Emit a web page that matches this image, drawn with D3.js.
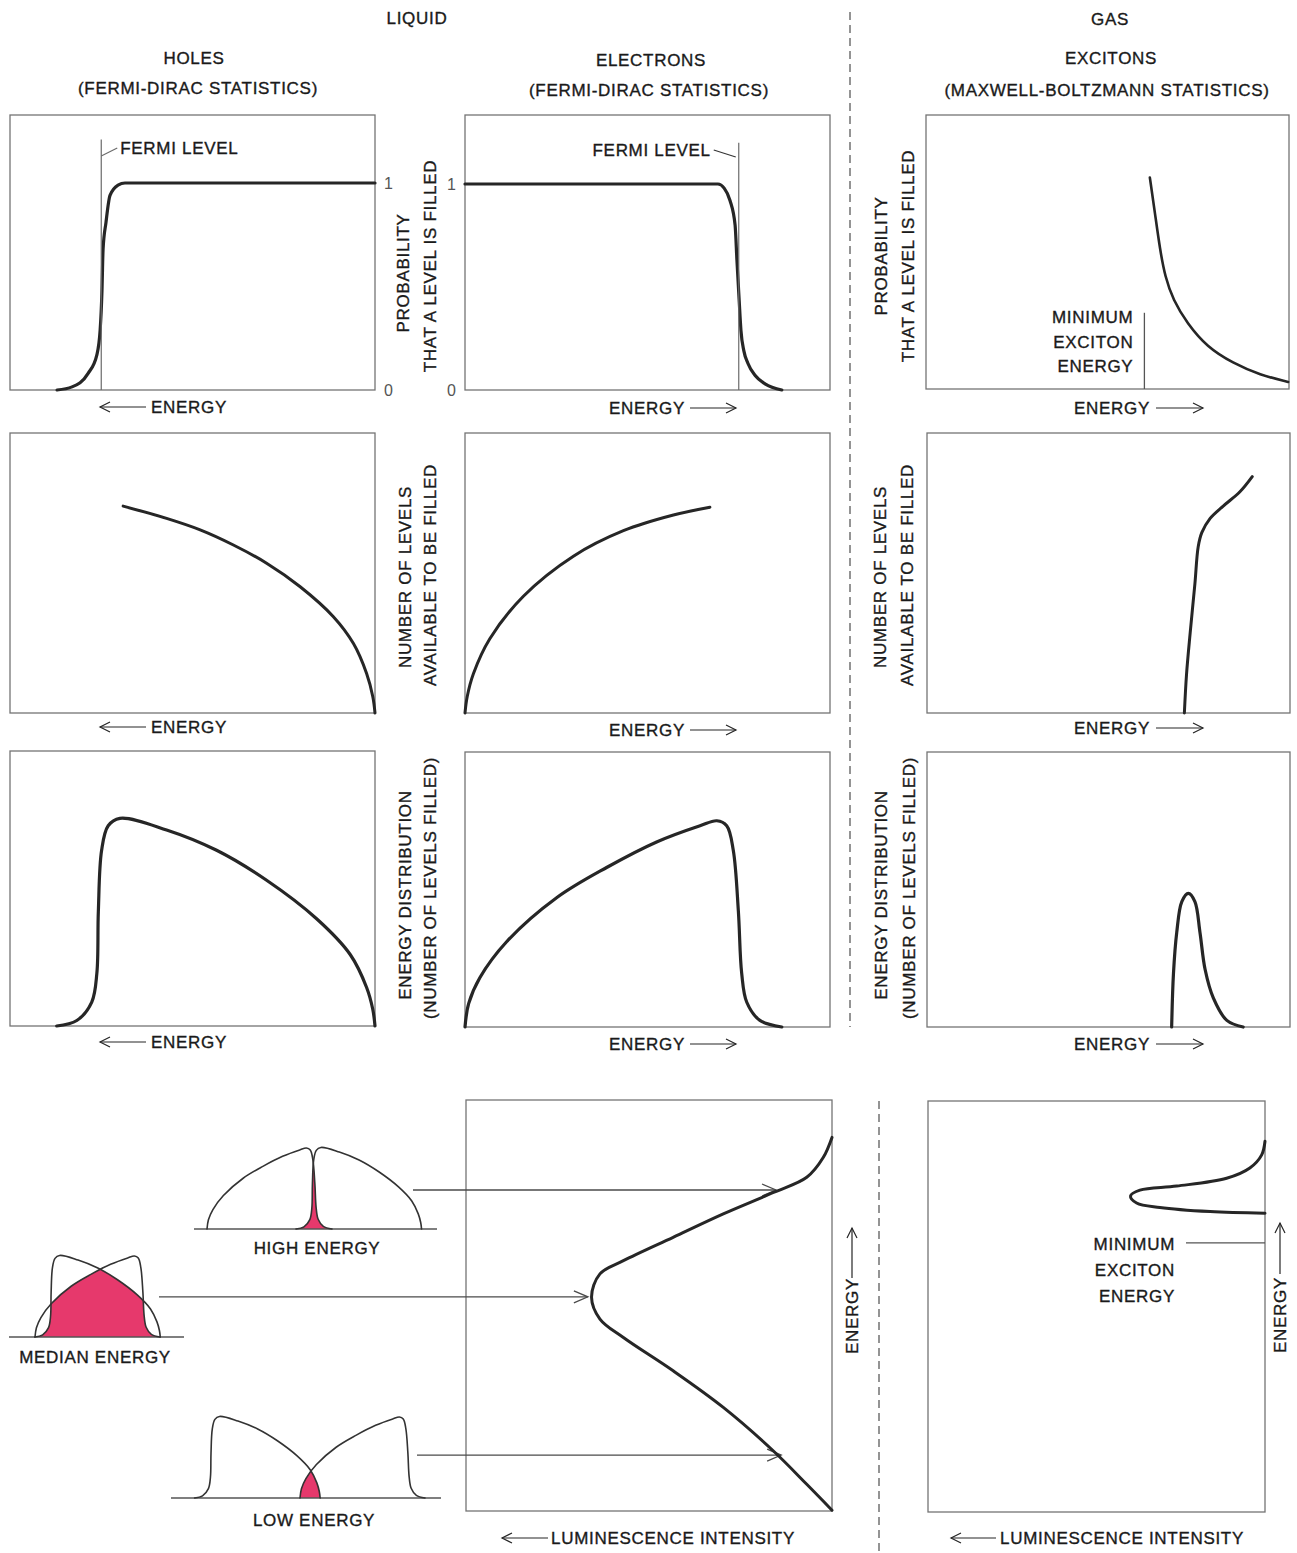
<!DOCTYPE html>
<html><head><meta charset="utf-8">
<script src="https://cdn.jsdelivr.net/npm/d3@7"></script>
<style>
html,body{margin:0;padding:0;background:#fff;}
svg text{font-family:"Liberation Sans", Arial, Helvetica, sans-serif;font-size:17px;fill:#1a1a1a;stroke:#1a1a1a;stroke-width:0.35px;letter-spacing:0.7px;}
</style></head><body>
<svg id="chart" width="1297" height="1553"></svg>
<script>
// ---------------- DATA ----------------
const fermiLevel = 75;              // energy units (0..100 across a panel)
const minExcitonEnergy = 60;        // exciton panels, energy units
const minExcitonEnergyGasLum = 0.655; // bottom gas panel, energy fraction

// Probability that a level is filled
const holeProbE = [87.1, 83.0, 78.6, 76.2, 75.3, 74.8, 74.5, 73.7, 72.6, 70.4, 68.5, 60, 40, 20, 0];
const holeProbP = [0, 0.015, 0.08, 0.17, 0.29, 0.48, 0.68, 0.81, 0.94, 0.99, 1.0, 1.0, 1.0, 1.0, 1.0];
const electronProbE = [0, 20, 40, 60, 69.3, 71.0, 72.6, 74.0, 74.5, 75.1, 75.6, 76.4, 77.5, 79.5, 82.2, 86.8];
const electronProbP = [1, 1, 1, 1, 1, 0.98, 0.92, 0.8, 0.63, 0.44, 0.29, 0.19, 0.13, 0.07, 0.03, 0];
const excitonProbE = [61.5, 62.9, 64.3, 65.7, 67.9, 71.7, 77.2, 84.3, 91.8, 99.5];
const excitonProbP = [1.026, 0.854, 0.675, 0.544, 0.432, 0.32, 0.204, 0.126, 0.068, 0.034];

// Number of levels available to be filled
const holeDosE = [69, 57.1, 47.9, 38.8, 29.7, 20.5, 11.4, 5.9, 2.3, 0.6, 0];
const holeDosN = [0.739, 0.695, 0.654, 0.6, 0.535, 0.451, 0.344, 0.248, 0.141, 0.058, 0];
const electronDosE = [0, 0.6, 2.3, 6.8, 16, 29.7, 43.4, 57.1, 67.1];
const electronDosN = [0, 0.058, 0.14, 0.265, 0.417, 0.56, 0.651, 0.707, 0.735];
const excitonDosE = [70.9, 71.5, 72.5, 73.8, 74.7, 75.7, 78, 81.6, 86.2, 89.6];
const excitonDosN = [0, 0.139, 0.286, 0.461, 0.593, 0.644, 0.695, 0.739, 0.79, 0.844];

// Energy distribution (number of levels filled)
const holeDistE = [87.2, 81.7, 77.6, 76.2, 75.8, 74.9, 73.1, 69.9, 57.1, 43.4, 29.7, 16, 6.8, 2.3, 0.6, 0];
const holeDistN = [0, 0.02, 0.087, 0.192, 0.415, 0.639, 0.728, 0.755, 0.713, 0.639, 0.53, 0.39, 0.26, 0.14, 0.06, 0];
const electronDistE = [0, 1, 4.1, 11.4, 25.1, 38.8, 52.5, 64.4, 69, 71.7, 73.5, 74.9, 75.8, 77.2, 80.8, 86.8];
const electronDistN = [0, 0.085, 0.18, 0.31, 0.47, 0.58, 0.673, 0.732, 0.75, 0.732, 0.643, 0.42, 0.196, 0.09, 0.024, 0];
const excitonDistE = [67.4, 67.9, 68.8, 70.2, 72, 73.8, 75.2, 76.6, 78.9, 82.6, 87.1];
const excitonDistN = [0, 0.195, 0.344, 0.456, 0.486, 0.456, 0.344, 0.21, 0.105, 0.024, 0];

// Luminescence spectra (energy fraction vs intensity fraction)
const liquidLumEnergy = [0.002, 0.065, 0.146, 0.252, 0.341, 0.422, 0.467, 0.52, 0.577, 0.609, 0.666, 0.723, 0.775, 0.812, 0.86, 0.909];
const liquidLumIntensity = [0, 0.069, 0.16, 0.297, 0.434, 0.57, 0.634, 0.657, 0.634, 0.57, 0.434, 0.297, 0.16, 0.069, 0.024, 0];
const gasLumEnergy = [0.727, 0.731, 0.741, 0.752, 0.769, 0.783, 0.793, 0.812, 0.837, 0.869, 0.902];
const gasLumIntensity = [0, 0.163, 0.312, 0.381, 0.399, 0.371, 0.262, 0.114, 0.045, 0.0098, 0];

// Electron-hole pair examples
const pairLabels = ["HIGH ENERGY", "MEDIAN ENERGY", "LOW ENERGY"];
const pairOffsets = [149, 87, 14];          // energy separation of the two distributions
const pairLumEnergy = [0.781, 0.521, 0.136]; // where each example lands on the spectrum
const pairLumIntensity = [0.153, 0.667, 0.139];

// ---------------- DRAWING ----------------
const svg = d3.select("#chart");
svg.append("rect").attr("width", 1297).attr("height", 1553).attr("fill", "#fff");
const INK = "#262626", BOXC = "#747474", PINK = "#e6396c", ARW = "#4a4a4a";
const SMOOTH = d3.curveCatmullRom.alpha(0.5);

function box(l, t, r, b) {
  svg.append("rect").attr("x", l).attr("y", t).attr("width", r - l).attr("height", b - t)
    .attr("fill", "none").attr("stroke", BOXC).attr("stroke-width", 1.3);
}
function pts(xs, ys, sx, sy, byY) {
  return xs.map((v, i) => [sx(v), sy(ys[i])]).sort((a, b) => byY ? a[1] - b[1] : a[0] - b[0]);
}
function curve(p, w, interp) {
  return svg.append("path")
    .attr("d", d3.line().curve(interp || SMOOTH)(p))
    .attr("fill", "none").attr("stroke", INK).attr("stroke-width", w)
    .attr("stroke-linejoin", "round").attr("stroke-linecap", "round");
}
function line(x1, y1, x2, y2, color, w, dash) {
  const l = svg.append("line").attr("x1", x1).attr("y1", y1).attr("x2", x2).attr("y2", y2)
    .attr("stroke", color).attr("stroke-width", w);
  if (dash) l.attr("stroke-dasharray", dash);
  return l;
}
function arrow(x1, y1, x2, y2, len, hw, color, w) {
  line(x1, y1, x2, y2, color, w);
  const dx = x2 - x1, dy = y2 - y1, L = Math.hypot(dx, dy), ux = dx / L, uy = dy / L;
  const bx = x2 - ux * len, by = y2 - uy * len;
  svg.append("path").attr("d", `M${bx - uy * hw},${by + ux * hw}L${x2},${y2}L${bx + uy * hw},${by - ux * hw}`)
    .attr("fill", "none").attr("stroke", color).attr("stroke-width", w).attr("stroke-linejoin", "miter");
}
function text(t, x, y, anchor) {
  return svg.append("text").attr("x", x).attr("y", y).attr("dy", "0.36em")
    .attr("text-anchor", anchor || "middle").text(t);
}
function vtext(t, cx, cy) {
  return svg.append("text").attr("transform", `translate(${cx},${cy}) rotate(-90)`)
    .attr("dy", "0.36em").attr("text-anchor", "middle").text(t);
}

// Headings
text("LIQUID", 417, 18);
text("GAS", 1110, 19);
text("HOLES", 194, 58);
text("(FERMI-DIRAC STATISTICS)", 198, 88);
text("ELECTRONS", 651, 60);
text("(FERMI-DIRAC STATISTICS)", 649, 90);
text("EXCITONS", 1111, 58);
text("(MAXWELL-BOLTZMANN STATISTICS)", 1107, 90);

// Dividers
line(850, 12, 850, 1027, "#7a7a7a", 1.6, "8,5");
line(879, 1101, 879, 1553, "#7a7a7a", 1.6, "8,5");

// ---- scales for the nine upper panels ----
const X = r => d3.scaleLinear().domain([0, 100]).range(r);
const Y = r => d3.scaleLinear().domain([0, 1]).range(r);
const P = {
  A: {x: X([375, 10]), y: Y([390, 183]), b: [10, 115, 375, 390]},
  B: {x: X([465, 830]), y: Y([390, 184]), b: [465, 115, 830, 390]},
  C: {x: X([926, 1290]), y: Y([389, 183]), b: [926, 115, 1289, 389]},
  D: {x: X([375, 10]), y: Y([713, 433]), b: [10, 433, 375, 713]},
  E: {x: X([465, 830]), y: Y([713, 433]), b: [465, 433, 830, 713]},
  F: {x: X([927, 1290]), y: Y([713, 433]), b: [927, 433, 1290, 713]},
  G: {x: X([375, 10]), y: Y([1026, 751]), b: [10, 751, 375, 1026]},
  H: {x: X([465, 830]), y: Y([1027, 752]), b: [465, 752, 830, 1027]},
  I: {x: X([927, 1290]), y: Y([1027, 752]), b: [927, 752, 1290, 1027]}
};
Object.values(P).forEach(p => box(...p.b));

// Row 1 curves
curve(pts(holeProbE, holeProbP, P.A.x, P.A.y), 3.2, d3.curveMonotoneX);
curve(pts(electronProbE, electronProbP, P.B.x, P.B.y), 3.2, d3.curveMonotoneX);
curve(pts(excitonProbE, excitonProbP, P.C.x, P.C.y), 2.6, d3.curveBasis);
// Row 2
curve(pts(holeDosE, holeDosN, P.D.x, P.D.y), 3);
curve(pts(electronDosE, electronDosN, P.E.x, P.E.y), 3);
curve(pts(excitonDosE, excitonDosN, P.F.x, P.F.y), 3);
// Row 3
curve(pts(holeDistE, holeDistN, P.G.x, P.G.y), 3.2);
curve(pts(electronDistE, electronDistN, P.H.x, P.H.y), 3.2);
curve(pts(excitonDistE, excitonDistN, P.I.x, P.I.y), 3.2);

// Fermi levels
const fA = P.A.x(fermiLevel), fB = P.B.x(fermiLevel);
line(fA, P.A.y(0), fA, P.A.y(1.21), "#6a6a6a", 1.2);
line(fA, 156, fA + 16, 148, "#6a6a6a", 1.1);
text("FERMI LEVEL", fA + 19, 148, "start");
line(fB, P.B.y(0), fB, P.B.y(1.2), "#6a6a6a", 1.2);
line(fB - 25, 150, fB - 3, 157, "#333", 1.1);
text("FERMI LEVEL", fB - 28, 150, "end");

// 0 / 1 axes
function probAxis(g, axis) {
  g.call(axis.tickValues([0, 1]).tickSize(0).tickPadding(9).tickFormat(d3.format("d")));
  g.select(".domain").remove();
  g.selectAll("text").style("font-size", "16px").style("fill", "#555").style("stroke", "none").style("letter-spacing", "0");
}
probAxis(svg.append("g").attr("transform", "translate(375,0)"), d3.axisRight(P.A.y));
probAxis(svg.append("g").attr("transform", "translate(465,0)"), d3.axisLeft(P.B.y));

// Minimum exciton energy (panel C)
const mC = P.C.x(minExcitonEnergy);
line(mC, P.C.y(0), mC, P.C.y(0.37), "#555", 1.3);
text("MINIMUM", mC - 11, 317, "end");
text("EXCITON", mC - 11, 342, "end");
text("ENERGY", mC - 11, 366, "end");

// Vertical axis titles
[["PROBABILITY", 403, 273], ["THAT A LEVEL IS FILLED", 430, 266],
 ["PROBABILITY", 881, 256], ["THAT A LEVEL IS FILLED", 908, 256],
 ["NUMBER OF LEVELS", 405, 577], ["AVAILABLE TO BE FILLED", 430, 575],
 ["NUMBER OF LEVELS", 880, 577], ["AVAILABLE TO BE FILLED", 907, 575],
 ["ENERGY DISTRIBUTION", 405, 895], ["(NUMBER OF LEVELS FILLED)", 430, 888],
 ["ENERGY DISTRIBUTION", 881, 895], ["(NUMBER OF LEVELS FILLED)", 909, 888]]
  .forEach(d => vtext(d[0], d[1], d[2]));

// ENERGY axis labels under panels
[407, 727, 1042].forEach(y => { arrow(146, y, 100, y, 10, 5, INK, 1.2); text("ENERGY", 151, y, "start"); });
[408, 730, 1044].forEach(y => { text("ENERGY", 685, y, "end"); arrow(690, y, 736, y, 10, 5, INK, 1.2); });
[408, 728, 1044].forEach(y => { text("ENERGY", 1150, y, "end"); arrow(1156, y, 1203, y, 10, 5, INK, 1.2); });

// ---- Bottom panels ----
const J = {x: d3.scaleLinear().domain([0, 1]).range([832, 466]), y: d3.scaleLinear().domain([0, 1]).range([1511, 1100])};
const K = {x: d3.scaleLinear().domain([0, 1]).range([1265, 928]), y: d3.scaleLinear().domain([0, 1]).range([1512, 1101])};
box(466, 1100, 832, 1511);
box(928, 1101, 1265, 1512);

// arrows from the pair diagrams onto the liquid spectrum
const arrowStart = [413, 159, 417];
pairLumEnergy.forEach((e, i) => {
  const y = J.y(e);
  arrow(arrowStart[i], y, J.x(pairLumIntensity[i]), y, 14, 6, ARW, 1.3);
});
curve(pts(liquidLumIntensity, liquidLumEnergy, J.x, J.y, true), 3);
curve(pts(gasLumIntensity, gasLumEnergy, K.x, K.y, true), 3);

// minimum exciton energy (gas luminescence)
const mK = K.y(minExcitonEnergyGasLum);
line(1186, mK, K.x(0), mK, "#555", 1.2);
text("MINIMUM", 1175, 1244, "end");
text("EXCITON", 1175, 1270, "end");
text("ENERGY", 1175, 1296, "end");

// rotated ENERGY arrows
vtext("ENERGY", 852, 1316);
arrow(852, 1278, 852, 1228, 10, 5, INK, 1.2);
vtext("ENERGY", 1280, 1315);
arrow(1280, 1274, 1280, 1223, 10, 5, INK, 1.2);

// luminescence intensity labels
arrow(548, 1538, 502, 1538, 10, 5, INK, 1.2); text("LUMINESCENCE INTENSITY", 551, 1538, "start");
arrow(996, 1538, 951, 1538, 10, 5, INK, 1.2); text("LUMINESCENCE INTENSITY", 1000, 1538, "start");

// ---- electron-hole pair diagrams ----
const miniStart = [207, 35, 300], miniBase = [1229, 1337, 1498];
const miniLine = [[194, 437], [9, 184], [171, 441]];
const miniLabel = [[317, 1248], [95, 1357], [314, 1520]];
const defs = svg.append("defs");
pairOffsets.forEach((off, i) => {
  const base = miniBase[i];
  const sx = d3.scaleLinear().domain([0, 100]).range([miniStart[i], miniStart[i] + 144]);
  const sy = d3.scaleLinear().domain([0, 1]).range([base, base - 108]);
  const eP = pts(electronDistE, electronDistN, sx, sy);
  const hP = pts(holeDistE.map(e => off - e), holeDistN, sx, sy);
  const area = d3.area().x(d => d[0]).y0(base).y1(d => d[1]).curve(SMOOTH);
  defs.append("clipPath").attr("id", "clip" + i).append("path").attr("d", area(hP));
  svg.append("path").attr("d", area(eP)).attr("fill", PINK).attr("clip-path", `url(#clip${i})`);
  svg.append("line").attr("x1", miniLine[i][0]).attr("x2", miniLine[i][1]).attr("y1", base).attr("y2", base)
    .attr("stroke", "#555").attr("stroke-width", 1.4);
  curve(eP, 1.6).attr("stroke", "#333");
  curve(hP, 1.6).attr("stroke", "#333");
  text(pairLabels[i], miniLabel[i][0], miniLabel[i][1]);
});
</script>
</body></html>
